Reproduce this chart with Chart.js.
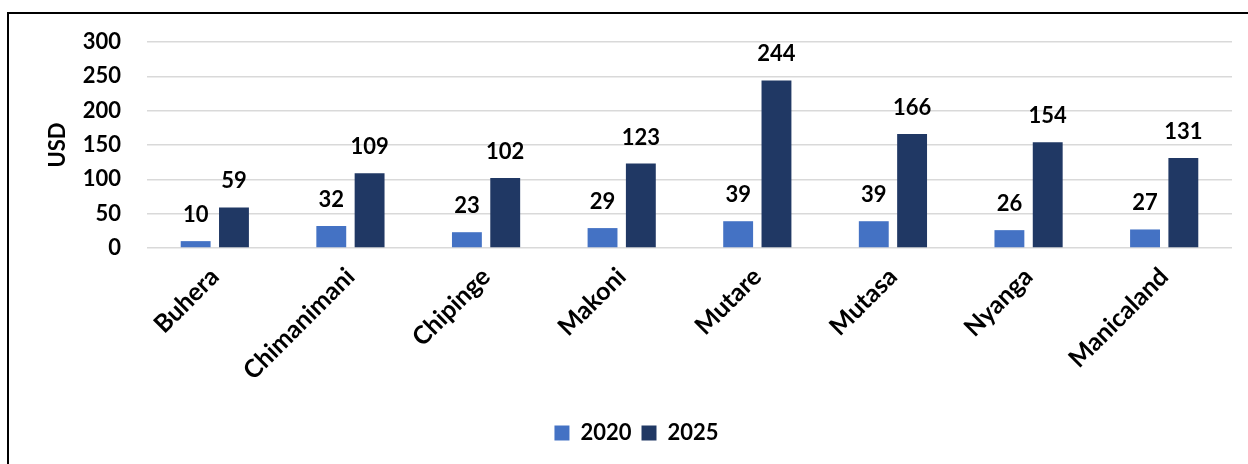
<!DOCTYPE html>
<html>
<head>
<meta charset="utf-8">
<script src="https://cdn.jsdelivr.net/npm/chart.js@4/dist/chart.umd.min.js"></script>
<style>
html,body{margin:0;padding:0;background:#fff;overflow:hidden;}
#wrap{position:relative;width:1248px;height:464px;}
#frame{position:absolute;left:7px;top:12px;width:1400px;height:600px;border-left:2px solid #000;border-top:2px solid #000;pointer-events:none;}
canvas{position:absolute;left:0;top:0;}
</style>
</head>
<body>
<div id="wrap">
<canvas id="c" width="1248" height="464"></canvas>
<div id="frame"></div>
</div>
<script>
const categories = ["Buhera","Chimanimani","Chipinge","Makoni","Mutare","Mutasa","Nyanga","Manicaland"];
const series2020 = [10,32,23,29,39,39,26,27];
const series2025 = [59,109,102,123,244,166,154,131];
const seriesNames = ["2020","2025"];
const yTicks = [0,50,100,150,200,250,300];

const FONT = "Lato";

const valueLabels = {
  id: 'valueLabels',
  afterDatasetsDraw(chart) {
    const ctx = chart.ctx;
    ctx.save();
    ctx.font = "bold 22px " + FONT;
    ctx.fillStyle = "#000";
    ctx.textAlign = "center";
    ctx.textBaseline = "alphabetic";
    chart.data.datasets.forEach((ds, i) => {
      const meta = chart.getDatasetMeta(i);
      meta.data.forEach((bar, j) => {
        ctx.fillText(String(ds.data[j]), bar.x, bar.y - 19);
      });
    });
    ctx.restore();
  }
};

new Chart(document.getElementById('c'), {
  type: 'bar',
  data: {
    labels: categories,
    datasets: [
      {label: seriesNames[0], data: series2020, backgroundColor: '#4472C4', categoryPercentage: 0.565, barPercentage: 0.78},
      {label: seriesNames[1], data: series2025, backgroundColor: '#203864', categoryPercentage: 0.565, barPercentage: 0.78}
    ]
  },
  options: {
    responsive: false,
    animation: false,
    layout: {padding: {left: 41, right: 16, top: 42, bottom: 10}},
    plugins: {
      legend: {
        position: 'bottom',
        labels: {boxWidth: 15, boxHeight: 15, color: '#000', font: {family: FONT, weight: 'bold', size: 22}, padding: 10}
      },
      tooltip: {enabled: false}
    },
    scales: {
      x: {
        grid: {display: false},
        border: {display: false},
        ticks: {color: '#000', font: {family: FONT, weight: 'bold', size: 25}, minRotation: 45, maxRotation: 45, padding: 6},
        afterFit(s) { s.height = 164; }
      },
      y: {
        min: 0, max: 300,
        afterBuildTicks(s) { s.ticks = yTicks.map(v => ({value: v})); },
        grid: {color: '#d9d9d9', lineWidth: 1.5, drawTicks: false},
        border: {display: false},
        ticks: {color: '#000', font: {family: FONT, weight: 'bold', size: 22}, padding: 26},
        title: {display: true, text: 'USD', color: '#000', font: {family: FONT, weight: 'bold', size: 22}},
        afterFit(s) { s.width = 106; }
      }
    }
  },
  plugins: [valueLabels]
});
</script>
</body>
</html>
